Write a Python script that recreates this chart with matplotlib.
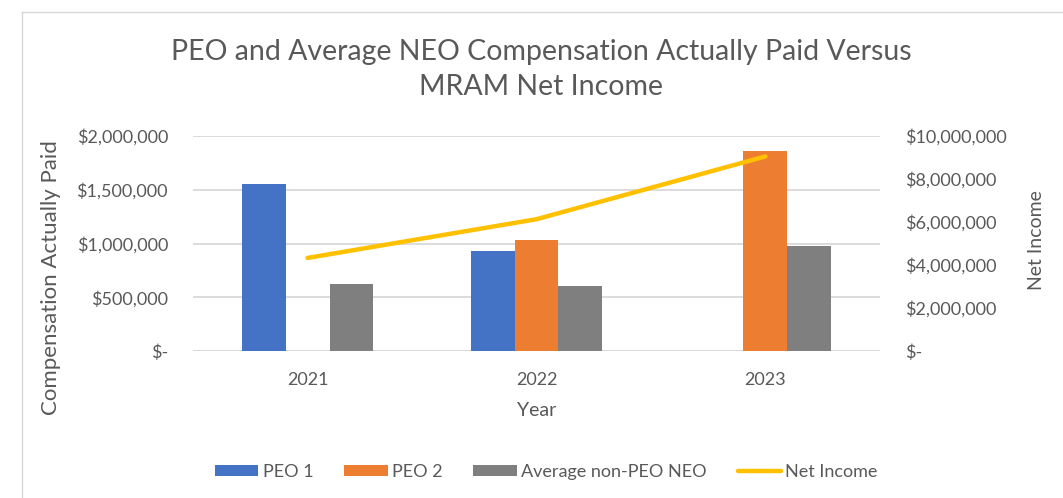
import matplotlib
matplotlib.use("Agg")
import matplotlib.pyplot as plt
import numpy as np
from matplotlib.ticker import FuncFormatter
from matplotlib.lines import Line2D

years = ["2021", "2022", "2023"]
peo1 = [1550000, 935000, np.nan]
peo2 = [np.nan, 1030000, 1860000]
avg_neo = [620000, 607000, 975000]
net_income = [4330000, 6130000, 9050000]

left_ticks = [0, 500000, 1000000, 1500000, 2000000]
right_ticks = [0, 2000000, 4000000, 6000000, 8000000, 10000000]

plt.rcParams['font.family'] = ['Lato', 'DejaVu Sans']
txt = '#595959'
grid_c = '#D9D9D9'

fig = plt.figure(figsize=(10.63, 4.98), dpi=100)
ax = fig.add_axes([0.1816, 0.295, 0.8278 - 0.1816, 0.727 - 0.295])
ax2 = ax.twinx()

x = np.arange(len(years))
w = 0.192
ax.bar(x - w, peo1, w, color='#4472C4', label='PEO 1', zorder=3)
ax.bar(x, peo2, w, color='#ED7D31', label='PEO 2', zorder=3)
ax.bar(x + w, avg_neo, w, color='#7F7F7F', label='Average non-PEO NEO', zorder=3)
ax2.plot(x, net_income, color='#FFC000', lw=3.2, solid_capstyle='round', label='Net Income', zorder=4)

ax.set_xlim(-0.5, 2.5)
ax.set_ylim(0, 2000000)
ax2.set_ylim(0, 10000000)
ax.set_yticks(left_ticks)
ax2.set_yticks(right_ticks)

def money(v, p):
    if v == 0:
        return '$-'
    return '${:,.0f}'.format(v)

ax.yaxis.set_major_formatter(FuncFormatter(money))
ax2.yaxis.set_major_formatter(FuncFormatter(money))
ax.set_xticks(x)
ax.set_xticklabels(years)

ax.grid(axis='y', color=grid_c, lw=1.3, zorder=0)
ax.set_axisbelow(True)
for a in (ax, ax2):
    for s in a.spines.values():
        s.set_visible(False)
    a.tick_params(length=0, colors=txt, labelsize=13)
ax.tick_params(axis='y', pad=18)
ax2.tick_params(axis='y', pad=18)
ax.tick_params(axis='x', pad=15)
ax.axhline(0, color=grid_c, lw=1.3, zorder=1)

ax.set_xlabel('Year', color=txt, fontsize=14, labelpad=10)
fig.text(51 / 1063, 1 - 278 / 498, 'Compensation Actually Paid', rotation=90,
         ha='center', va='center', color=txt, fontsize=16)
fig.text(1036 / 1063, 1 - 240 / 498, 'Net Income', rotation=90,
         ha='center', va='center', color=txt, fontsize=14)

fig.text(541 / 1063, 1 - 69.5 / 498, 'PEO and Average NEO Compensation Actually Paid Versus\nMRAM Net Income',
         ha='center', va='center', color=txt, fontsize=20.5, linespacing=1.45)

h1, l1 = ax.get_legend_handles_labels()
h2, l2 = ax2.get_legend_handles_labels()
leg = fig.legend(h1 + h2, l1 + l2, loc='center', bbox_to_anchor=(0.514, 1 - 472 / 498), ncol=4,
                 frameon=False, fontsize=13, handlelength=2.4, handleheight=0.55,
                 columnspacing=1.7, handletextpad=0.25)
for t in leg.get_texts():
    t.set_color(txt)

# chart border
fig.add_artist(Line2D([0.021, 0.021], [0, 0.976], transform=fig.transFigure, color='#D9D9D9', lw=1))
fig.add_artist(Line2D([0.021, 1.0], [0.976, 0.976], transform=fig.transFigure, color='#D9D9D9', lw=1))

fig.savefig('out.png', dpi=100)
